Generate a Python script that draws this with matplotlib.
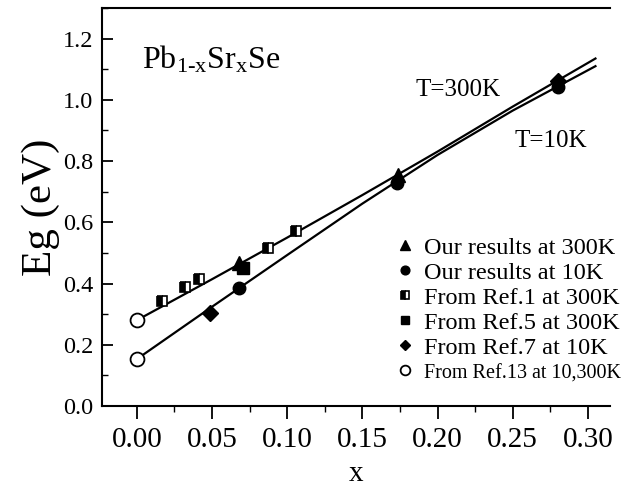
import matplotlib
matplotlib.use("Agg")
import matplotlib.pyplot as plt
from matplotlib.ticker import MultipleLocator, FormatStrFormatter

plt.rcParams['font.family'] = ['Liberation Serif', 'DejaVu Serif']
plt.rcParams['mathtext.fontset'] = 'custom'
plt.rcParams['mathtext.rm'] = 'Liberation Serif'
plt.rcParams['mathtext.it'] = 'Liberation Serif:italic'

# ---- data ----
fit_x = [0.0, 0.05, 0.10, 0.15, 0.20, 0.25, 0.305]
fit_300K = [0.280, 0.414, 0.550, 0.689, 0.831, 0.978, 1.135]
fit_10K = [0.153, 0.324, 0.493, 0.661, 0.820, 0.965, 1.110]

our300_x = [0.068, 0.174]
our300_y = [0.467, 0.755]

our10_x = [0.068, 0.173, 0.280]
our10_y = [0.385, 0.728, 1.042]

ref1_x = [0.0166, 0.032, 0.0416, 0.0875, 0.106]
ref1_y = [0.343, 0.388, 0.416, 0.516, 0.570]

ref5_x = [0.0705]
ref5_y = [0.452]

ref7_x = [0.049, 0.280]
ref7_y = [0.305, 1.062]

ref13_x = [0.0, 0.0]
ref13_y = [0.280, 0.153]

labels = ["Our results at 300K", "Our results at 10K", "From Ref.1 at 300K",
          "From Ref.5 at 300K", "From Ref.7 at 10K", "From Ref.13 at 10,300K"]

fig = plt.figure(figsize=(6.31, 4.91), dpi=100)
ax = fig.add_axes([0.1612, 0.1731, 0.8063, 0.8106])

ax.plot(fit_x, fit_300K, color='black', lw=1.6, zorder=2)
ax.plot(fit_x, fit_10K, color='black', lw=1.6, zorder=2)

h1, = ax.plot(our300_x, our300_y, ls='none', marker='^', ms=10, mfc='black', mec='black', zorder=3)
h2, = ax.plot(our10_x, our10_y, ls='none', marker='o', ms=9, mfc='black', mec='black', zorder=3)
h3, = ax.plot(ref1_x, ref1_y, ls='none', marker='s', ms=7.5, fillstyle='left',
              mfc='black', mfcalt='white', mec='black', mew=1.2, zorder=3)
h4, = ax.plot(ref5_x, ref5_y, ls='none', marker='s', ms=8, mfc='black', mec='black', zorder=3)
h5, = ax.plot(ref7_x, ref7_y, ls='none', marker='D', ms=8, mfc='black', mec='black', zorder=3)
h6, = ax.plot(ref13_x, ref13_y, ls='none', marker='o', ms=10, mfc='white', mec='black', mew=1.3, zorder=4)

ax.set_xlim(-0.0233, 0.315)
ax.set_ylim(0.0, 1.30)

ax.xaxis.set_major_locator(MultipleLocator(0.05))
ax.xaxis.set_minor_locator(MultipleLocator(0.025))
ax.yaxis.set_major_locator(MultipleLocator(0.2))
ax.yaxis.set_minor_locator(MultipleLocator(0.1))
ax.xaxis.set_major_formatter(FormatStrFormatter('%.2f'))
ax.yaxis.set_major_formatter(FormatStrFormatter('%.1f'))

ax.spines['right'].set_visible(False)
for s in ['left', 'bottom', 'top']:
    ax.spines[s].set_linewidth(1.5)

ax.tick_params(axis='x', which='major', direction='out', length=9, width=1.3, labelsize=21, pad=6)
ax.tick_params(axis='x', which='minor', direction='out', length=4, width=1.0)
ax.tick_params(axis='y', which='major', direction='in', length=8, width=1.3, labelsize=17.5, pad=6)
ax.tick_params(axis='y', which='minor', direction='in', length=4, width=1.0)
ax.tick_params(top=False, right=False, which='both')

ax.set_xlabel('x', fontsize=21, labelpad=6)
ax.set_ylabel('Eg (eV)', fontsize=31, labelpad=2)

ax.text(0.0786, 0.849, r'$\mathrm{Pb_{1\text{-}x}Sr_{x}Se}$', transform=ax.transAxes,
        fontsize=23, va='baseline', ha='left')
ax.text(0.616, 0.779, 'T=300K', transform=ax.transAxes, fontsize=18, va='baseline', ha='left')
ax.text(0.812, 0.651, 'T=10K', transform=ax.transAxes, fontsize=18, va='baseline', ha='left')

leg = ax.legend([h1, h2, h3, h4, h5, h6], labels, loc='upper left',
                bbox_to_anchor=(0.58, 0.425), frameon=False, fontsize=17.5,
                handlelength=0.7, handletextpad=0.4, labelspacing=0.12,
                borderpad=0, borderaxespad=0, markerscale=0.7)
leg.get_texts()[-1].set_fontsize(14.5)

fig.savefig('out.png', dpi=100)
